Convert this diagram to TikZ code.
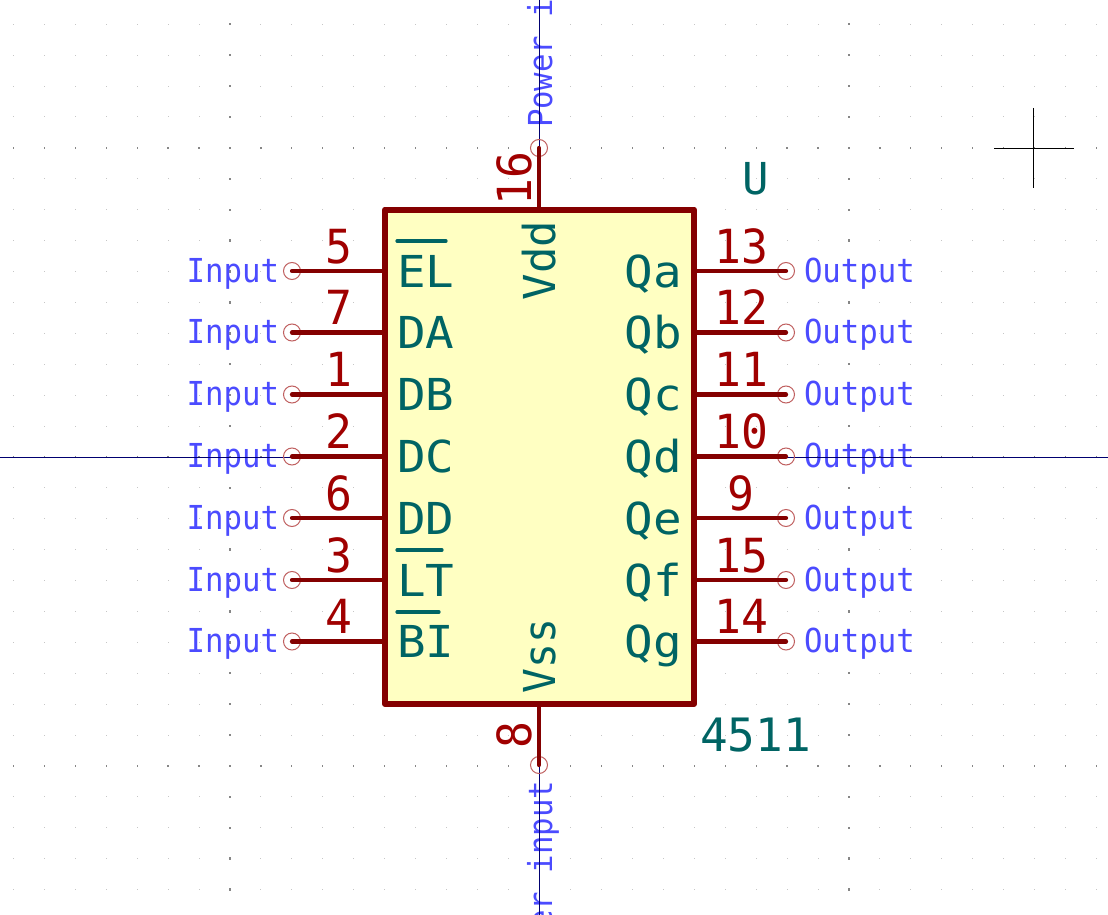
\documentclass[tikz,border=0pt]{standalone}
\usepackage{fontspec}
\setmainfont{DejaVu Sans Mono}
\newfontfamily\fblue[FakeStretch=0.93]{DejaVu Sans Mono}
\newfontfamily\fteal[FakeStretch=1.0]{DejaVu Sans Mono}
\newfontfamily\fwide[FakeStretch=1.08]{DejaVu Sans Mono}
\newfontfamily\fnarrow[FakeStretch=0.94]{DejaVu Sans Mono}
\newfontfamily\fnum[FakeStretch=0.95]{DejaVu Sans Mono}
\definecolor{pinred}{HTML}{840000}
\definecolor{numred}{HTML}{A00000}
\definecolor{tealk}{HTML}{006464}
\definecolor{blueio}{HTML}{4B4BFF}
\definecolor{circ}{HTML}{C06060}
\definecolor{bodyfill}{HTML}{FFFFC2}
\definecolor{axisnavy}{HTML}{000070}
\tikzset{
  txt/.style={inner sep=0pt,outer sep=0pt},
  iolabel/.style={txt,text=blueio,font=\fblue\fontsize{33}{33}\selectfont},
  nettext/.style={txt,text=tealk,font=\fwide\fontsize{44}{44}\selectfont},
  numtext/.style={txt,text=numred,font=\fnum\fontsize{47}{47}\selectfont},
  pinline/.style={draw=pinred,line width=4.2pt,line cap=round},
  pinend/.style={circle,draw=circ,line width=1pt,minimum size=17pt,inner sep=0pt,outer sep=0pt},
  bodybox/.style={draw=pinred,fill=bodyfill,line width=6pt,line join=round,minimum width=309pt,minimum height=494.5pt,inner sep=0pt,outer sep=0pt},
  bar/.style={draw=tealk,line width=3.2pt,line cap=round},
  axisline/.style={draw=axisnavy,line width=0.8pt},
  cross/.style={draw=black,line width=0.6pt}
}
\begin{document}
\begin{tikzpicture}[x=1pt,y=-1pt]
\useasboundingbox (0,0) rectangle (1108,915);
\clip (0,0) rectangle (1108,915);
\fill[white] (0,0) rectangle (1108,915);
% grid
\foreach \i in {0,...,35}{
  \foreach \j in {0,...,28}{
    \pgfmathsetmacro{\gx}{13.3+30.95*\i}
    \pgfmathsetmacro{\gy}{24.3+30.9*\j}
    \fill[gray!45] (\gx-0.5,\gy-0.5) rectangle (\gx+0.5,\gy+0.5);
  }
}
\foreach \i in {7,17,27}{
  \foreach \j in {0,...,28}{
    \pgfmathsetmacro{\gx}{13.3+30.95*\i}
    \pgfmathsetmacro{\gy}{24.3+30.9*\j}
    \fill[gray!95] (\gx-0.6,\gy-1.2) rectangle (\gx+0.6,\gy+1.2);
  }
}
\foreach \j in {4,14,24}{
  \foreach \i in {0,...,35}{
    \pgfmathsetmacro{\gx}{13.3+30.95*\i}
    \pgfmathsetmacro{\gy}{24.3+30.9*\j}
    \fill[gray!95] (\gx-0.6,\gy-1.2) rectangle (\gx+0.6,\gy+1.2);
  }
}
% electrical-type labels
\foreach \n/\y in {1/271,2/332.5,3/394.5,4/456.5,5/518,6/580,7/641.5}{
  \node[iolabel,anchor=base east] (inl\n) at (279,\y+11) {Input};
  \node[iolabel,anchor=base west] (outl\n) at (804,\y+11) {Output};
}
\node[iolabel,rotate=90,anchor=base west] (pwrtop) at (552,128) {Power input};
\node[iolabel,rotate=90,anchor=base east] (pwrbot) at (552,781) {Power input};
% axes
\coordinate (axL) at (0,457);
\coordinate (axR) at (1108,457);
\coordinate (axT) at (539,0);
\coordinate (axB) at (539,915);
\draw[axisline] (axL) -- (axR);
\draw[axisline] (axT) -- (axB);
% cursor
\coordinate (crL) at (994,148);
\coordinate (crR) at (1074,148);
\coordinate (crT) at (1033.5,108);
\coordinate (crB) at (1033.5,188);
\draw[cross] (crL) -- (crR);
\draw[cross] (crT) -- (crB);
% body
\node[bodybox] (ic) at (539.5,456.75) {};
% pin ends
\foreach \n/\y in {1/271,2/332.5,3/394.5,4/456.5,5/518,6/580,7/641.5}{
  \node[pinend] (pl\n) at (292,\y) {};
  \node[pinend] (pr\n) at (786,\y) {};
  \draw[pinline] (pl\n.center) -- (pl\n.center -| ic.west);
  \draw[pinline] (pr\n.center) -- (pr\n.center -| ic.east);
}
\node[pinend] (pt) at (539,148) {};
\node[pinend] (pb) at (539,765) {};
\draw[pinline] (pt.center) -- (pt.center |- ic.north);
\draw[pinline] (pb.center) -- (pb.center |- ic.south);
% pin numbers
\foreach \n/\t in {1/5,2/7,3/1,4/2,5/6,6/3,7/4}{
  \path (pl\n.center) ++(46.5,-8) node[numtext,anchor=base] (nl\n) {\t};
}
\foreach \n/\t in {1/13,2/12,3/11,4/10,5/9,6/15,7/14}{
  \path (pr\n.center) ++(-45,-8) node[numtext,anchor=base] (nr\n) {\t};
}
\node[numtext,rotate=90,anchor=base west] (n16) at (531,205) {16};
\node[numtext,rotate=90,anchor=base west] (n8) at (531,748) {8};
% pin names
\foreach \n/\t in {1/EL,2/DA,3/DB,4/DC,5/DD,6/LT,7/BI}{
  \path (pl\n.center) ++(105,16) node[nettext,anchor=base west] (dl\n) {\t};
}
\foreach \n/\t in {1/Qa,2/Qb,3/Qc,4/Qd,5/Qe,6/Qg,7/Qg}{
  \ifnum\n=6\relax
    \path (pr\n.center) ++(-104,16) node[nettext,anchor=base east] (dr\n) {Qf};
  \else
    \path (pr\n.center) ++(-104,16) node[nettext,anchor=base east] (dr\n) {\t};
  \fi
}
\node[nettext,font=\fteal\fontsize{44}{44}\selectfont,rotate=90,anchor=base west] (vdd) at (555,300) {Vdd};
\node[nettext,font=\fnarrow\fontsize{44}{44}\selectfont,rotate=90,anchor=base west] (vss) at (555,693) {Vss};
\coordinate (bar1a) at (397,241);
\coordinate (bar1b) at (446,241);
\coordinate (bar2a) at (397,550);
\coordinate (bar2b) at (442,550);
\coordinate (bar3a) at (397,612);
\coordinate (bar3b) at (439,612);
\draw[bar] (bar1a) -- (bar1b);
\draw[bar] (bar2a) -- (bar2b);
\draw[bar] (bar3a) -- (bar3b);
% reference and value
\node[nettext,font=\fteal\fontsize{44}{44}\selectfont,anchor=base] (refU) at (756,194) {U};
\node[nettext,font=\fteal\fontsize{46}{46}\selectfont,anchor=base west] (val) at (700,751) {4511};
\end{tikzpicture}
\end{document}
